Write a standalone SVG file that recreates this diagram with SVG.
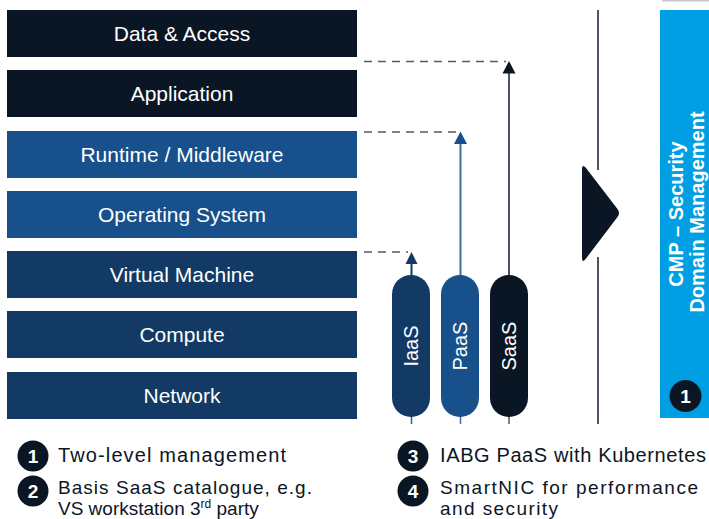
<svg xmlns="http://www.w3.org/2000/svg" width="709" height="519" viewBox="0 0 709 519">
<style>
  .bar-text{font-family:"Liberation Sans",Arial,sans-serif;font-size:21px;fill:#ffffff;text-anchor:middle}
  .pill-text{font-family:"Liberation Sans",Arial,sans-serif;font-size:20px;fill:#ffffff;text-anchor:middle}
  .legend{font-family:"Liberation Sans",Arial,sans-serif;font-size:20px;fill:#0b1624}
  .legend2{font-family:"Liberation Sans",Arial,sans-serif;font-size:19px;fill:#0b1624}
  .num{font-family:"Liberation Sans",Arial,sans-serif;font-size:19px;font-weight:bold;fill:#ffffff;text-anchor:middle}
  .cmp{font-family:"Liberation Sans",Arial,sans-serif;font-size:20px;font-weight:bold;fill:#ffffff;text-anchor:middle}
  .dark{fill:#0b1624}
  .mid{fill:#17508a}
  .navy{fill:#123a64}
  .dash{stroke:#555b63;stroke-width:1.6;stroke-dasharray:8 6;fill:none}
</style>
<rect x="662" y="0" width="47" height="1.5" fill="#c8c8cc"/>
<g id="data-access"><rect class="dark" x="7" y="10" width="350" height="47"/><text class="bar-text" x="182" y="41">Data &amp; Access</text></g>
<g id="application"><rect class="dark" x="7" y="70" width="350" height="47"/><text class="bar-text" x="182" y="101">Application</text></g>
<g id="runtime"><rect class="mid" x="7" y="131" width="350" height="47"/><text class="bar-text" x="182" y="162">Runtime / Middleware</text></g>
<g id="os"><rect class="mid" x="7" y="191" width="350" height="47"/><text class="bar-text" x="182" y="222">Operating System</text></g>
<g id="vm"><rect class="navy" x="7" y="251" width="350" height="47"/><text class="bar-text" x="182" y="282">Virtual Machine</text></g>
<g id="compute"><rect class="navy" x="7" y="311" width="350" height="47"/><text class="bar-text" x="182" y="342">Compute</text></g>
<g id="network"><rect class="navy" x="7" y="372" width="350" height="47"/><text class="bar-text" x="182" y="403">Network</text></g>

<g id="connectors">
  <line class="dash" x1="364" y1="61.5" x2="506" y2="61.5"/>
  <line class="dash" x1="364" y1="132" x2="457" y2="132"/>
  <line class="dash" x1="364" y1="252" x2="408" y2="252"/>
  <line x1="509" y1="72" x2="509" y2="276" stroke="#4b5563" stroke-width="2"/>
  <polygon points="509,61 502.5,73.5 515.5,73.5" fill="#0b1624"/>
  <line x1="460.5" y1="143" x2="460.5" y2="276" stroke="#3d6e9c" stroke-width="2"/>
  <polygon points="460.5,131.5 454,144 467,144" fill="#17508a"/>
  <line x1="411.5" y1="263" x2="411.5" y2="276" stroke="#123a64" stroke-width="2"/>
  <polygon points="411.5,252 405.5,264 417.5,264" fill="#123a64"/>
  <line x1="411.5" y1="416" x2="411.5" y2="424" stroke="#3d5a7a" stroke-width="1.5"/>
  <line x1="460.5" y1="416" x2="460.5" y2="424" stroke="#3d6e9c" stroke-width="1.5"/>
  <line x1="509" y1="416" x2="509" y2="424" stroke="#4b5563" stroke-width="1.5"/>
  <line x1="598" y1="10" x2="598" y2="170" stroke="#4b5563" stroke-width="2"/>
  <line x1="598" y1="257" x2="598" y2="424" stroke="#4b5563" stroke-width="2"/>
  <path d="M582,170 Q582,163 586,168 L617.5,209 Q620.5,213 617.5,217 L586,258.5 Q582,264 582,257 Z" fill="#0b1624"/>
</g>

<g id="iaas"><rect class="navy" x="392" y="275" width="38" height="142" rx="19"/><text class="pill-text" transform="translate(418,346) rotate(-90)">IaaS</text></g>
<g id="paas"><rect class="mid" x="441" y="275" width="38" height="142" rx="19"/><text class="pill-text" transform="translate(467,346) rotate(-90)">PaaS</text></g>
<g id="saas"><rect class="dark" x="490" y="275" width="38" height="142" rx="19"/><text class="pill-text" transform="translate(516,346) rotate(-90)">SaaS</text></g>

<g id="cmp">
  <rect x="660" y="10" width="49" height="408" fill="#009fe3"/>
  <text class="cmp" transform="translate(683,214) rotate(-90)">CMP – Security</text>
  <text class="cmp" transform="translate(704,212) rotate(-90)">Domain Management</text>
  <circle cx="685.5" cy="396" r="16" fill="#0b1624"/>
  <text class="num" x="685.5" y="403">1</text>
</g>

<g id="legend1"><circle cx="33" cy="456" r="15.5" fill="#0b1624"/><text class="num" x="33" y="463">1</text><text class="legend" x="58" y="462" textLength="228" lengthAdjust="spacing">Two-level management</text></g>
<g id="legend2"><circle cx="33" cy="491" r="15.5" fill="#0b1624"/><text class="num" x="33" y="498">2</text><text class="legend2"><tspan x="58" y="494" textLength="254" lengthAdjust="spacing">Basis SaaS catalogue, e.g.</tspan><tspan x="58" y="515">VS workstation 3</tspan><tspan font-size="12" dy="-7">rd</tspan><tspan dy="7"> party</tspan></text></g>
<g id="legend3"><circle cx="413" cy="456" r="15.5" fill="#0b1624"/><text class="num" x="413" y="463">3</text><text class="legend" x="440" y="462" textLength="266" lengthAdjust="spacing">IABG PaaS with Kubernetes</text></g>
<g id="legend4"><circle cx="413" cy="491" r="15.5" fill="#0b1624"/><text class="num" x="413" y="498">4</text><text class="legend2"><tspan x="440" y="494" textLength="258" lengthAdjust="spacing">SmartNIC for performance</tspan><tspan x="440" y="515" textLength="118" lengthAdjust="spacing">and security</tspan></text></g>
</svg>
